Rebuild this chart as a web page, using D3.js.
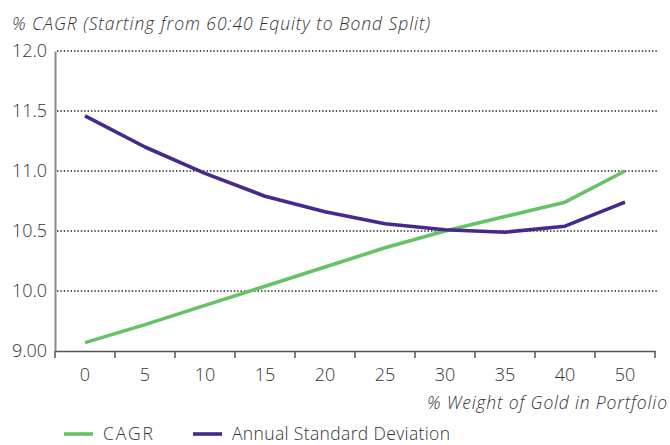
<!DOCTYPE html>
<html>
<head>
<meta charset="utf-8">
<script src="https://cdn.jsdelivr.net/npm/d3@7"></script>
<style>
  body { margin: 0; background: #fff; }
  text { font-family: "Open Sans", "Liberation Sans", sans-serif; font-weight: 300; fill: #333; }
</style>
</head>
<body>
<div id="chart"></div>
<script>
// gold weight categories (x axis)
var goldWeights = ["0", "5", "10", "15", "20", "25", "30", "35", "40", "50"];
// series values, % per year
var cagr = [9.57, 9.72, 9.88, 10.04, 10.20, 10.36, 10.50, 10.62, 10.74, 11.00];
var annualStdDev = [11.46, 11.20, 10.98, 10.79, 10.66, 10.56, 10.51, 10.49, 10.54, 10.74];
// y ticks as printed on the chart
var yTickValues = [9.5, 10, 10.5, 11, 11.5, 12];
var yTickLabels = ["9.00", "10.0", "10.5", "11.0", "11.5", "12.0"];

var seriesNames = ["CAGR", "Annual Standard Deviation"];
var seriesColors = ["#66c266", "#46298d"];

var w = 670, h = 445;
var margin = {top: 51, left: 55, right: 15, bottom: 94};
var plotW = 600, plotH = 300;

var svg = d3.select("#chart").append("svg")
            .attr("width", w)
            .attr("height", h);

var x = d3.scaleBand()
          .domain(goldWeights)
          .range([margin.left, margin.left + plotW]);

var y = d3.scaleLinear()
          .domain([9.5, 12])
          .range([margin.top + plotH, margin.top]);

// dotted grid lines
svg.append("g")
  .selectAll("line")
  .data(yTickValues.slice(1))
  .enter()
  .append("line")
  .attr("x1", margin.left + 2)
  .attr("x2", margin.left + plotW + 2)
  .attr("y1", function(d) { return y(d); })
  .attr("y2", function(d) { return y(d); })
  .attr("stroke", "#222")
  .attr("stroke-width", 1.4)
  .attr("stroke-dasharray", "1.4,2");

// y axis
var yAxis = d3.axisLeft(y)
              .tickValues(yTickValues)
              .tickSize(0)
              .tickPadding(8)
              .tickFormat(function(d, i) { return yTickLabels[i]; });

var gy = svg.append("g")
  .attr("transform", "translate(" + margin.left + ",0)")
  .call(yAxis);
gy.select(".domain").attr("stroke", "#8a8a8a").attr("stroke-width", 2);
gy.selectAll("text").attr("font-size", "18px").attr("fill", "#333");

// x axis, ticks between categories
var gx = svg.append("g")
  .attr("transform", "translate(0," + (margin.top + plotH) + ")")
  .call(d3.axisBottom(x).tickSize(0).tickPadding(17));
gx.select(".domain").attr("stroke", "#555").attr("stroke-width", 1.5);
gx.selectAll("text").attr("font-size", "18px").attr("fill", "#333");

var bounds = goldWeights.map(function(d) { return x(d); }).concat([margin.left + plotW]);
gx.selectAll(".sep")
  .data(bounds)
  .enter()
  .append("line")
  .attr("class", "sep")
  .attr("x1", function(d) { return d; })
  .attr("x2", function(d) { return d; })
  .attr("y1", 0)
  .attr("y2", 7)
  .attr("stroke", "#555")
  .attr("stroke-width", 1.5);

// lines
var line = d3.line()
  .x(function(d, i) { return x(goldWeights[i]) + x.bandwidth() / 2; })
  .y(function(d) { return y(d); });

[cagr, annualStdDev].forEach(function(s, i) {
  svg.append("path")
    .datum(s)
    .attr("d", line)
    .attr("fill", "none")
    .attr("stroke", seriesColors[i])
    .attr("stroke-width", 3.6)
    .attr("stroke-linejoin", "round");
});

// titles
svg.append("text")
  .attr("x", 12)
  .attr("y", 30)
  .attr("font-size", "17.5px")
  .attr("font-style", "italic")
  .attr("textLength", 418)
  .attr("lengthAdjust", "spacing")
  .text("% CAGR (Starting from 60:40 Equity to Bond Split)");

svg.append("text")
  .attr("x", 427)
  .attr("y", 409)
  .attr("font-size", "17.5px")
  .attr("font-style", "italic")
  .attr("textLength", 240)
  .attr("lengthAdjust", "spacing")
  .text("% Weight of Gold in Portfolio");

// legend
var legendX = [64, 193];
var legendTextW = [50, 218];
var lg = svg.append("g").selectAll("g")
  .data(seriesNames)
  .enter()
  .append("g")
  .attr("transform", function(d, i) { return "translate(" + legendX[i] + ",434)"; });
lg.append("line")
  .attr("x1", 0).attr("x2", 29)
  .attr("stroke", function(d, i) { return seriesColors[i]; })
  .attr("stroke-width", 3.6);
lg.append("text")
  .attr("x", 39)
  .attr("y", 6)
  .attr("font-size", "17.5px")
  .attr("textLength", function(d, i) { return legendTextW[i]; })
  .attr("lengthAdjust", "spacing")
  .text(function(d) { return d; });
</script>
</body>
</html>
